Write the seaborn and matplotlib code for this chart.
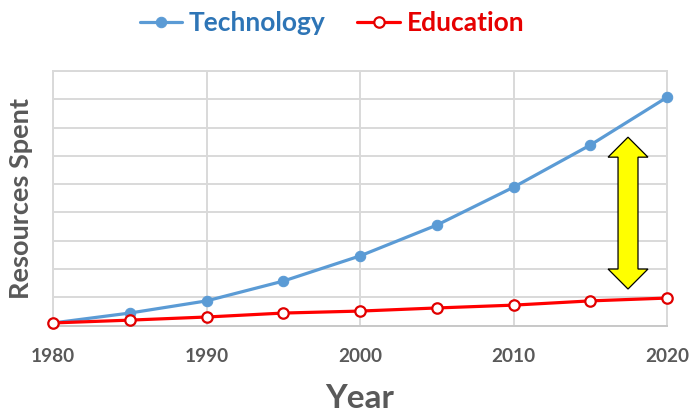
import matplotlib
matplotlib.use("Agg")
import matplotlib.pyplot as plt
import seaborn as sns
import pandas as pd
from matplotlib.patches import Polygon

# Resources spent per year (grid step = 10 units)
years = [1980, 1985, 1990, 1995, 2000, 2005, 2010, 2015, 2020]
technology = [0.9, 4.4, 8.7, 15.7, 24.6, 35.5, 48.9, 63.8, 80.7]
education = [0.9, 1.9, 3.0, 4.4, 5.1, 6.2, 7.2, 8.7, 9.7]
xtick_years = [1980, 1990, 2000, 2010, 2020]
series_names = ["Technology", "Education"]

sns.set_theme(style="white")
plt.rcParams["font.family"] = ["Lato", "DejaVu Sans"]

TEXT_GRAY = "#595959"
GRID = "#d9d9d9"
BLUE_LINE = "#5b9bd5"
BLUE_TEXT = "#2e75b6"
RED_LINE = "#ff0000"
RED_TEXT = "#e60000"

W, H = 690, 416
fig = plt.figure(figsize=(W / 100, H / 100), dpi=100)
ax = fig.add_axes([53 / W, 1 - 325.5 / H, 614 / W, 254.5 / H])

df = pd.DataFrame({"Year": years, series_names[0]: technology, series_names[1]: education})

sns.lineplot(data=df, x="Year", y=series_names[0], ax=ax, color=BLUE_LINE, lw=2.3,
             marker="o", markersize=7.5, markerfacecolor=BLUE_LINE,
             markeredgecolor=BLUE_LINE, label=series_names[0], clip_on=False, zorder=3)
sns.lineplot(data=df, x="Year", y=series_names[1], ax=ax, color=RED_LINE, lw=2.3,
             marker="o", markersize=7.5, markerfacecolor="white",
             markeredgecolor="#e00000", markeredgewidth=1.6,
             label=series_names[1], clip_on=False, zorder=4)

ax.set_xlim(1980, 2020)
ax.set_ylim(0, 90)
ax.set_xticks(xtick_years)
ax.set_xticklabels([str(y) for y in xtick_years])
ax.set_yticks(range(0, 91, 10))
ax.set_yticklabels([])
ax.grid(True, color=GRID, lw=1.4)
ax.set_axisbelow(True)
for side in ["top", "right", "left", "bottom"]:
    ax.spines[side].set_visible(True)
    ax.spines[side].set_color(GRID)
    ax.spines[side].set_linewidth(1.4)
ax.spines["bottom"].set_color("#c8c8c8")

ax.tick_params(axis="both", length=0)
ax.tick_params(axis="x", pad=16, labelsize=13.7, labelcolor=TEXT_GRAY)
for lbl in ax.get_xticklabels():
    lbl.set_fontweight("bold")

ax.set_xlabel("Year", fontsize=24, fontweight="bold", color=TEXT_GRAY, va="baseline")
ax.xaxis.set_label_coords(0.5, -0.326)
ax.set_ylabel("Resources Spent", fontsize=19.5, fontweight="bold", color=TEXT_GRAY)
ax.yaxis.set_label_coords(-0.033, 0.5)

# Double-headed arrow marking the widening gap between the two series
cx, top, bot = 2017.46, 66.6, 12.9
head_len, head_hw, shaft_hw = 7.07, 1.30, 0.65
arrow_pts = [
    (cx, top), (cx + head_hw, top - head_len), (cx + shaft_hw, top - head_len),
    (cx + shaft_hw, bot + head_len), (cx + head_hw, bot + head_len), (cx, bot),
    (cx - head_hw, bot + head_len), (cx - shaft_hw, bot + head_len),
    (cx - shaft_hw, top - head_len), (cx - head_hw, top - head_len),
]
ax.add_patch(Polygon(arrow_pts, closed=True, facecolor="#ffff00",
                     edgecolor="black", lw=0.9, zorder=5))

handles, labels = ax.get_legend_handles_labels()
if ax.get_legend() is not None:
    ax.get_legend().remove()
leg = fig.legend(handles, labels, loc="center", bbox_to_anchor=(332 / W, 1 - 23 / H),
                 ncol=2, frameon=False, prop={"weight": "bold", "size": 19},
                 handlelength=1.6, handletextpad=0.27, columnspacing=1.2)
for t, c in zip(leg.get_texts(), [BLUE_TEXT, RED_TEXT]):
    t.set_color(c)

fig.savefig("out.png", dpi=100)
